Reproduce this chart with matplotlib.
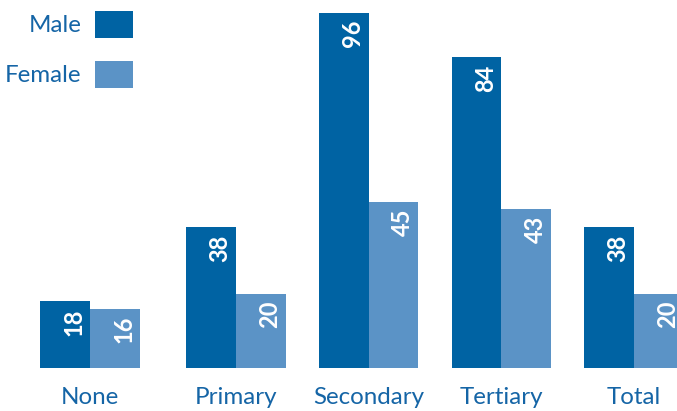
import numpy as np
import matplotlib.pyplot as plt

categories = ["None", "Primary", "Secondary", "Tertiary", "Total"]
male = [18, 38, 96, 84, 38]
female = [16, 20, 45, 43, 20]

MALE_C = "#0063a3"
FEMALE_C = "#5b93c6"
TEXT_C = "#1565a6"

plt.rcParams["font.family"] = ["Lato", "DejaVu Sans"]


def draw():
	fig = plt.figure(figsize=(6.77, 4.11), dpi=100)
	ax = fig.add_axes([0, 43 / 411, 1, 368 / 411])

	x = np.arange(len(categories)) + np.array([0, 0.1, 0.1, 0.1, 0.1])
	width = 0.375

	bm = ax.bar(x - width / 2, male, width, color=MALE_C, label="Male")
	bf = ax.bar(x + width / 2, female, width, color=FEMALE_C, label="Female")

	for bars in (bm, bf):
		for b in bars:
			ax.annotate(f"{b.get_height():.0f}", (b.get_x() + b.get_width() / 2, b.get_height()),
				xytext=(6.5, -5), textcoords="offset points", rotation=90,
				ha="center", va="top", color="white", fontsize=17, fontweight="bold")

	ax.set_xlim(-0.678, 4.424)
	ax.set_ylim(0, 99.5)
	ax.set_xticks(x)
	ax.set_xticklabels(categories, color=TEXT_C, fontsize=17.4)
	ax.tick_params(axis="x", length=0, pad=14)
	ax.set_yticks([])
	for s in ax.spines.values():
		s.set_visible(False)

	leg = ax.legend(loc="upper left", bbox_to_anchor=(-0.005, 0.995), bbox_transform=fig.transFigure,
		frameon=False, markerfirst=False, fontsize=17.4, handlelength=1.57, handleheight=1.35,
		labelspacing=0.95, handletextpad=0.55, borderpad=0.35, borderaxespad=0)
	for t in leg.get_texts():
		t.set_color(TEXT_C)
		t.set_ha("right")

	fig.savefig("out.png", dpi=100)

draw()
